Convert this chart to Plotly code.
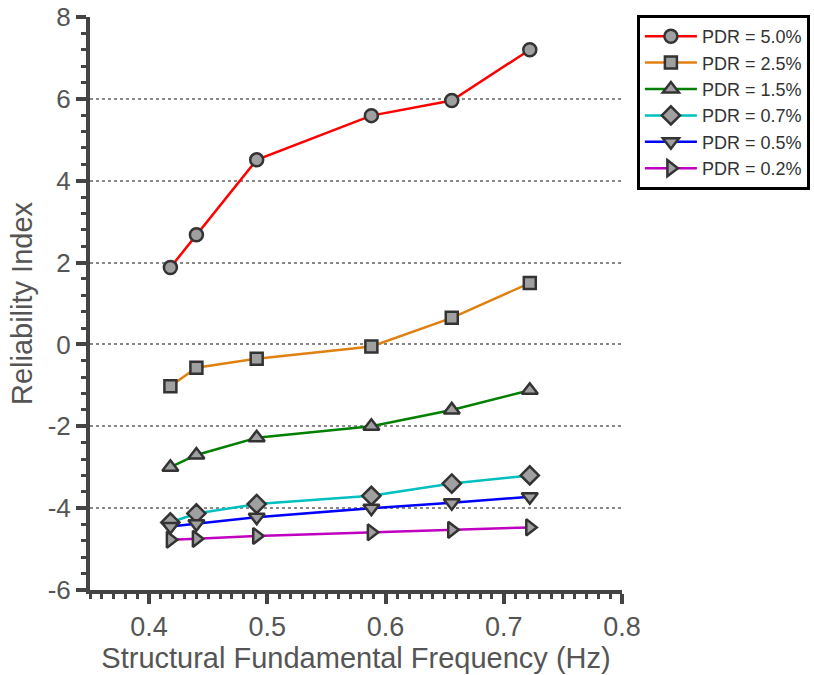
import plotly.graph_objects as go

freq = [0.418, 0.44, 0.491, 0.588, 0.656, 0.722]
series_names = ["PDR = 5.0%", "PDR = 2.5%", "PDR = 1.5%", "PDR = 0.7%", "PDR = 0.5%", "PDR = 0.2%"]
pdr_50 = [1.88, 2.68, 4.51, 5.59, 5.96, 7.2]
pdr_25 = [-1.02, -0.57, -0.35, -0.05, 0.65, 1.5]
pdr_15 = [-3.0, -2.7, -2.28, -2.0, -1.6, -1.12]
pdr_07 = [-4.35, -4.13, -3.9, -3.7, -3.4, -3.2]
pdr_05 = [-4.45, -4.38, -4.22, -4.0, -3.87, -3.72]
pdr_02 = [-4.77, -4.75, -4.68, -4.59, -4.53, -4.47]
values = [pdr_50, pdr_25, pdr_15, pdr_07, pdr_05, pdr_02]
colors = ["#ff0000", "#e08010", "#007f00", "#00c0c0", "#0000ff", "#c000c0"]
symbols = ["circle", "square", "triangle-up", "diamond", "triangle-down", "triangle-right"]
sizes = [13, 12, 14, 14, 14, 14]

x_ticks = [0.4, 0.5, 0.6, 0.7, 0.8]
x_tick_labels = ["0.4", "0.5", "0.6", "0.7", "0.8"]
y_ticks = [-6, -4, -2, 0, 2, 4, 6, 8]
y_tick_labels = ["-6", "-4", "-2", "0", "2", "4", "6", "8"]

fig = go.Figure()
for name, vals, col, sym, sz in zip(series_names, values, colors, symbols, sizes):
    fig.add_trace(go.Scatter(
        x=freq, y=vals, mode="lines+markers", name=name,
        line=dict(color=col, width=2.5),
        marker=dict(symbol=sym, size=sz, color="#a0a0a0",
                    line=dict(color="#333333", width=2.5)),
    ))

axis_color = "#444444"
font_family = "Liberation Sans, Arial, sans-serif"

fig.update_layout(
    width=814, height=675,
    plot_bgcolor="white", paper_bgcolor="white",
    margin=dict(l=90, r=192, t=17, b=85, autoexpand=False),
    font=dict(family=font_family, color="#555555", size=26),
    showlegend=True,
    legend=dict(
        x=1.028, y=1.0035, xanchor="left", yanchor="top",
        bgcolor="white", bordercolor="#000000", borderwidth=3,
        font=dict(size=18, color="#333333", family=font_family),
        itemwidth=52, tracegroupgap=0,
    ),
    xaxis=dict(
        range=[0.35, 0.8],
        tickvals=x_ticks, ticktext=x_tick_labels,
        ticks="outside", ticklen=10, tickwidth=4, tickcolor=axis_color,
        minor=dict(dtick=0.01, tick0=0.35, ticks="outside", ticklen=5, tickwidth=3, tickcolor=axis_color),
        showline=True, linecolor=axis_color, linewidth=4,
        showgrid=False, zeroline=False, automargin=False,
        ticklabeloverflow="allow",
        title=dict(text="Structural Fundamental Frequency (Hz)", standoff=2,
                   font=dict(size=29, color="#555555")),
        tickfont=dict(size=27, color="#555555"),
    ),
    yaxis=dict(
        range=[-6, 8],
        tickvals=y_ticks, ticktext=y_tick_labels,
        ticks="outside", ticklen=10, tickwidth=4, tickcolor=axis_color,
        minor=dict(dtick=0.4, tick0=-6, ticks="outside", ticklen=5, tickwidth=3, tickcolor=axis_color),
        showline=True, linecolor=axis_color, linewidth=4,
        showgrid=True, gridcolor="#888888", gridwidth=1.5, griddash="dot",
        zeroline=False, automargin=False,
        ticklabeloverflow="allow",
        title=dict(text="Reliability Index", standoff=8,
                   font=dict(size=29, color="#555555")),
        tickfont=dict(size=26, color="#555555"),
    ),
)

fig.write_html("out.html", config={"displayModeBar": False},
               post_script="document.body.style.margin='0';")
